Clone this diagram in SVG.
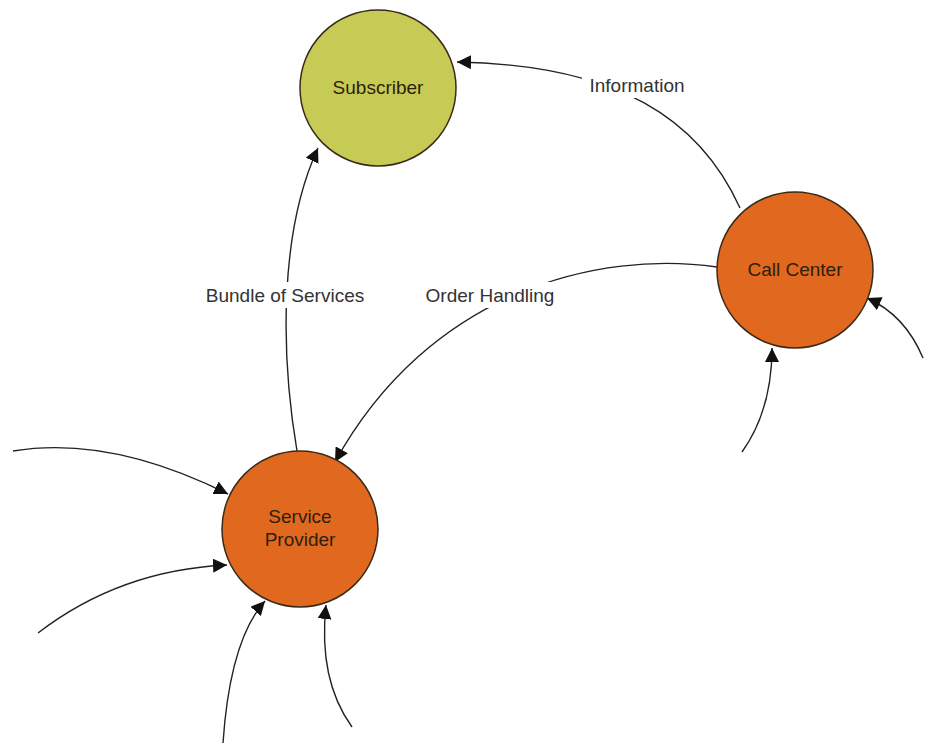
<svg xmlns="http://www.w3.org/2000/svg" width="925" height="745" viewBox="0 0 925 745">
<defs>
<marker id="ah" viewBox="0 0 10 10" refX="10" refY="5" markerWidth="14" markerHeight="14" markerUnits="userSpaceOnUse" orient="auto">
<path d="M0,0 L10,5 L0,10 z" fill="#111"/>
</marker>
</defs>
<style>
.node{stroke:#3a2a18;stroke-width:1.5}
.sub{fill:#C6CB55}
.org{fill:#E1691F}
.nt{font-family:"Liberation Sans",Arial,sans-serif;font-size:19px;fill:#2e1e0c;text-anchor:middle}
.edge{fill:none;stroke:#222;stroke-width:1.4;marker-end:url(#ah)}
.lbl{font-family:"Liberation Sans",Arial,sans-serif;font-size:19px;fill:#333;text-anchor:middle}
.bg{fill:#fff}
</style>
<rect width="925" height="745" fill="#fff"/>
<g id="connectors">
<path class="edge" d="M297,451 C280,350 280,230 318,148"/>
<path class="edge" d="M740,208 C700,120 620,65 457,62"/>
<path class="edge" d="M717,267 C600,250 430,290 335,462"/>
<path class="edge" d="M742,452 Q772,410 772,348"/>
<path class="edge" d="M923,358 Q905,315 867,298"/>
<path class="edge" d="M13,451 C80,440 150,455 228,494"/>
<path class="edge" d="M38,633 Q120,570 227,565"/>
<path class="edge" d="M223,743 Q230,640 265,601"/>
<path class="edge" d="M352,727 Q318,680 326,605"/>
<rect class="bg" x="196" y="282" width="178" height="26"/>
<text class="lbl" x="285" y="302">Bundle of Services</text>
<rect class="bg" x="418" y="282" width="144" height="26"/>
<text class="lbl" x="490" y="302">Order Handling</text>
<rect class="bg" x="582" y="72" width="110" height="26"/>
<text class="lbl" x="637" y="92">Information</text>
</g>
<g id="subscriber">
<circle class="node sub" cx="378" cy="88" r="78"/>
<text class="nt" x="378" y="94">Subscriber</text>
</g>
<g id="call-center">
<circle class="node org" cx="795" cy="270" r="78"/>
<text class="nt" x="795" y="276">Call Center</text>
</g>
<g id="service-provider">
<circle class="node org" cx="300" cy="529" r="78"/>
<text class="nt" x="300" y="523">Service</text>
<text class="nt" x="300" y="546">Provider</text>
</g>
</svg>
